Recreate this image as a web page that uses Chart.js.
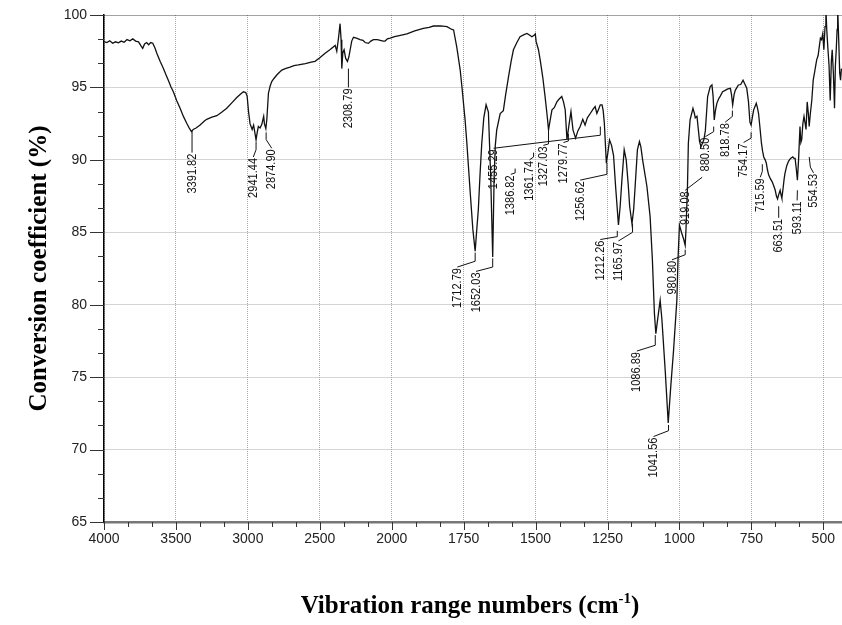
<!DOCTYPE html>
<html>
<head>
<meta charset="utf-8">
<script src="https://cdn.jsdelivr.net/npm/chart.js@4.4.1/dist/chart.umd.min.js"></script>
<style>
  html, body { margin: 0; padding: 0; background: #fff; }
  #wrap { width: 842px; height: 625px; }
</style>
</head>
<body>
<div id="wrap"><canvas id="ftir" width="842" height="625"></canvas></div>
<script>
// spectrum (wavenumber cm-1, transmittance %)
const wavenumbers = [
  4000,3980,3960,3940,3920,3900,3880,3860,3840,3820,3800,3780,3760,3745,3731,3718,3703,3690,3675,3661,
  3645,3633,3610,3587,3570,3553,3535,3518,3495,3471,3448,3425,3405,3392,3380,3360,3332,3300,3286,3250,
  3216,3180,3147,3110,3077,3050,3031,3015,3005,2995,2985,2970,2960,2950,2943,2935,2927,2915,2903,2895,
  2890,2885,2875,2868,2857,2845,2834,2820,2799,2780,2764,2740,2707,2680,2649,2600,2560,2533,2500,2463,
  2430,2393,2382,2370,2359,2352,2347,2340,2331,2320,2308,2298,2289,2278,2266,2245,2220,2200,2185,2162,
  2145,2127,2100,2080,2060,2046,2030,2011,1990,1970,1947,1920,1890,1870,1855,1830,1808,1791,1785,1774,
  1762,1756,1745,1739,1727,1718,1710,1704,1699,1693,1687,1680,1672,1664,1656,1649,1644,1640,1635,1623,
  1612,1604,1594,1585,1577,1565,1554,1540,1530,1520,1513,1505,1501,1498,1490,1484,1475,1467,1460,1455,
  1448,1443,1435,1426,1418,1409,1403,1397,1391,1384,1377,1370,1361,1353,1345,1336,1328,1320,1310,1300,
  1293,1287,1281,1275,1269,1265,1261,1254,1248,1243,1236,1229,1222,1212,1206,1200,1192,1185,1178,1173,
  1165,1159,1154,1146,1139,1134,1128,1113,1102,1094,1087,1082,1077,1073,1067,1061,1049,1039,1030,1021,
  1009,1005,1000,993,985,980,977,972,969,963,953,948,945,939,930,925,915,910,902,893,
  887,883,879,875,870,864,858,850,841,832,823,819,815,810,806,800,795,787,779,772,
  766,760,755,751,746,742,737,733,729,725,720,715,711,707,702,698,694,690,684,678,
  672,667,663,659,655,650,647,644,640,636,633,627,621,614,606,602,598,594,590,586,
  581,578,575,571,567,563,560,556,552,549,545,540,535,529,523,518,514,510,506,502,
  498,494,491,488,485,480,476,472,469,465,461,458,455,452,450,446,443,440,437
];
const transmittance = [
  98.16,98.10,98.22,98.05,98.15,98.08,98.20,98.12,98.30,98.22,98.35,98.20,98.15,97.90,97.70,98.00,98.10,97.95,98.10,98.05,
  97.70,97.36,96.80,96.30,95.90,95.50,95.05,94.70,94.10,93.56,93.00,92.53,92.15,91.95,92.10,92.20,92.40,92.70,92.80,92.95,
  93.05,93.30,93.56,93.95,94.30,94.55,94.70,94.65,94.40,93.30,92.50,92.10,92.40,91.80,91.38,91.90,92.30,92.20,92.45,92.80,
  93.00,92.50,92.15,92.80,94.60,95.10,95.40,95.60,95.86,96.05,96.20,96.30,96.40,96.50,96.55,96.65,96.75,96.80,97.05,97.36,
  97.60,97.90,97.50,98.40,99.40,98.30,96.30,97.40,97.60,97.00,96.80,97.10,97.60,98.20,98.46,98.40,98.30,98.25,98.10,98.04,
  98.20,98.30,98.30,98.25,98.20,98.20,98.35,98.40,98.50,98.60,98.70,98.90,99.08,99.15,99.24,99.25,99.20,99.00,98.97,97.80,
  96.20,95.05,92.76,91.20,87.70,85.20,83.70,85.30,86.55,89.00,91.15,92.90,93.80,93.30,88.85,83.30,88.85,91.00,92.07,93.20,
  93.40,94.50,95.75,96.80,97.60,98.10,98.50,98.65,98.73,98.60,98.50,98.60,98.70,98.16,97.60,96.90,95.70,94.37,93.10,92.07,
  92.90,93.45,93.60,94.00,94.20,94.37,94.00,93.45,91.40,92.40,93.33,92.07,91.50,92.00,92.30,92.80,92.40,92.90,93.20,93.50,
  93.68,93.20,93.50,93.80,93.80,93.40,92.53,89.77,90.60,91.38,91.00,90.30,88.20,85.50,86.80,88.60,90.70,90.00,88.30,86.78,
  85.60,86.60,88.16,90.70,91.26,90.90,90.00,88.16,86.10,83.10,79.40,78.00,78.80,79.40,80.30,79.00,75.30,71.84,74.40,76.70,
  80.30,83.10,85.50,85.00,84.50,84.10,85.30,88.20,91.15,92.76,93.56,93.20,92.90,93.00,91.26,90.90,91.40,92.00,94.37,95.06,
  95.17,94.40,92.76,93.40,93.90,94.20,94.40,94.70,94.80,94.90,94.94,94.50,93.80,94.50,94.80,95.00,95.17,95.20,95.50,95.20,
  94.94,94.00,92.60,92.40,93.00,93.45,93.70,93.90,93.60,93.20,92.20,91.15,90.60,90.20,90.00,89.77,89.30,88.97,88.70,88.50,
  88.20,87.90,87.50,87.30,87.60,87.90,87.60,87.35,88.00,88.70,89.08,89.60,89.90,90.10,90.20,90.10,90.10,89.40,88.60,90.00,
  92.30,91.20,91.40,92.50,93.00,92.50,92.10,94.00,93.20,92.30,93.20,94.10,95.50,96.20,96.90,97.20,97.80,98.40,98.30,98.70,
  97.60,99.20,100.50,99.00,98.00,96.50,94.10,96.80,97.60,96.00,93.56,96.50,97.60,99.00,100.50,98.00,96.00,95.50,96.30
];

// tick labels of the x axis (scale halves below 2000)
const xTickLabels = [4000,3500,3000,2500,2000,1750,1500,1250,1000,750,500];
const yTicks = [65,70,75,80,85,90,95,100];

// peak annotations
const peakNames = [
  "3391.82","2941.44","2874.90","2308.79","1712.79","1652.03","1455.29","1386.82","1361.74",
  "1327.03","1279.77","1256.62","1212.26","1165.97","1086.89","1041.56","980.80","919.08",
  "880.50","818.78","754.17","715.59","663.51","593.11","554.53"
];
// leader path for each name, first point = top end of the text (wavenumber, %)
const peakLeaders = [
  [[3388,90.5],[3388,92.0]],
  [[2962,90.2],[2943,90.7],[2943,91.2]],
  [[2834,90.8],[2873,91.4],[2873,91.9]],
  [[2301,95.0],[2301,96.3]],
  [[1772,82.6],[1710,83.0],[1710,83.6]],
  [[1707,82.3],[1649,82.6],[1649,83.2]],
  [[1646,90.8],[1275,91.7],[1275,92.3]],
  [[1586,89.0],[1571,89.1],[1571,89.4]],
  [[1521,90.0],[1507,90.2],[1507,90.5]],
  [[1473,91.0],[1455,91.1],[1455,92.0]],
  [[1403,91.2],[1386,91.3],[1386,91.8]],
  [[1345,88.6],[1252,89.0],[1252,89.8]],
  [[1275,84.5],[1216,84.7],[1216,85.1]],
  [[1212,84.4],[1163,85.0],[1163,85.6]],
  [[1148,76.8],[1084,77.2],[1084,77.9]],
  [[1090,70.9],[1038,71.3],[1038,71.7]],
  [[1026,83.1],[980,83.45],[980,83.8]],
  [[980,87.9],[921,88.8]],
  [[910,91.6],[881,91.95],[881,92.3]],
  [[841,92.6],[816,93.0],[816,93.4]],
  [[777,91.2],[751,91.5],[751,91.9]],
  [[719,88.8],[712,89.2],[712,89.7]],
  [[655,86.0],[655,86.8]],
  [[591,87.2],[590,87.9]],
  [[534,89.1],[545,89.5],[549,90.2]]
];

// axis is compressed 2x above 2000 cm-1
function toAxis(w) { return w > 2000 ? 2000 + (w - 2000) / 2 : w; }
function fromAxis(u) { return u > 2000 ? 2000 + (u - 2000) * 2 : u; }

const points = wavenumbers.map((w, i) => ({ x: toAxis(w), y: transmittance[i] }));

const tickPlugin = {
  id: 'minorTicks',
  afterDraw(chart) {
    const ctx = chart.ctx, xs = chart.scales.x, ys = chart.scales.y, a = chart.chartArea;
    ctx.save();
    ctx.strokeStyle = '#333';
    ctx.lineWidth = 1;
    ctx.beginPath();
    for (let k = 0; k <= 21; k++) {
      const v = 65 + k * 5 / 3;
      const y = Math.round(ys.getPixelForValue(v)) + 0.5;
      const len = k % 3 === 0 ? 14 : 6;
      ctx.moveTo(a.left - len, y); ctx.lineTo(a.left, y);
    }
    for (let k = 0; ; k++) {
      const u = 3000 - k * 250 / 3;
      if (u < xs.min) break;
      const x = Math.round(xs.getPixelForValue(u)) + 0.5;
      const len = k % 3 === 0 ? 8 : 5;
      ctx.moveTo(x, a.bottom); ctx.lineTo(x, a.bottom + len);
    }
    ctx.stroke();

    // x axis title with a real superscript
    ctx.fillStyle = '#000';
    ctx.textBaseline = 'alphabetic';
    ctx.textAlign = 'left';
    const big = 'bold 25px "Liberation Serif", "Times New Roman", serif';
    const small = 'bold 15px "Liberation Serif", "Times New Roman", serif';
    const p1 = 'Vibration range numbers (cm', sup = '-1', p2 = ')';
    ctx.font = big;
    const w1 = ctx.measureText(p1).width, w3 = ctx.measureText(p2).width;
    ctx.font = small;
    const w2 = ctx.measureText(sup).width;
    let x0 = (a.left + a.right) / 2 - 3 - (w1 + w2 + w3) / 2;
    const base = 613;
    ctx.font = big; ctx.fillText(p1, x0, base);
    ctx.font = small; ctx.fillText(sup, x0 + w1, base - 10);
    ctx.font = big; ctx.fillText(p2, x0 + w1 + w2, base);
    ctx.restore();
  }
};

const peakPlugin = {
  id: 'peakLabels',
  afterDatasetsDraw(chart) {
    const ctx = chart.ctx, xs = chart.scales.x, ys = chart.scales.y;
    ctx.save();
    ctx.strokeStyle = '#111';
    ctx.lineWidth = 1;
    ctx.fillStyle = '#111';
    ctx.font = '13px "Liberation Sans", Arial, sans-serif';
    peakNames.forEach((name, i) => {
      const path = peakLeaders[i].map(p => [xs.getPixelForValue(toAxis(p[0])), ys.getPixelForValue(p[1])]);
      ctx.beginPath();
      path.forEach((p, j) => j ? ctx.lineTo(p[0], p[1]) : ctx.moveTo(p[0], p[1]));
      ctx.stroke();
      ctx.save();
      ctx.translate(path[0][0], path[0][1] + 1);
      ctx.rotate(-Math.PI / 2);
      ctx.scale(0.85, 1);
      ctx.textAlign = 'right';
      ctx.textBaseline = 'middle';
      ctx.fillText(name, 0, 0);
      ctx.restore();
    });
    ctx.restore();
  }
};

new Chart(document.getElementById('ftir'), {
  type: 'line',
  data: {
    datasets: [{
      data: points,
      borderColor: '#111',
      borderWidth: 1.3,
      pointRadius: 0,
      tension: 0,
      fill: false
    }]
  },
  options: {
    responsive: false,
    animation: false,
    devicePixelRatio: 1,
    layout: { padding: { top: 15, right: 0, left: 0, bottom: 0 } },
    plugins: { legend: { display: false }, tooltip: { enabled: false } },
    scales: {
      x: {
        type: 'linear',
        reverse: true,
        min: 435,
        max: 3000,
        afterBuildTicks(scale) {
          scale.ticks = xTickLabels.map(w => ({ value: toAxis(w) }));
        },
        afterFit(scale) { scale.height = 103; scale.paddingLeft = 0; scale.paddingRight = 0; },
        ticks: {
          autoSkip: false,
          maxRotation: 0,
          padding: 9,
          color: '#222',
          font: { family: '"Liberation Sans", Arial, sans-serif', size: 14 },
          callback: (v) => String(fromAxis(v))
        },
        grid: {
          drawTicks: false,
          color: '#a8a8a8'
        },
        border: { display: true, color: '#777', width: 2.5, dash: [1, 1] }
      },
      y: {
        min: 65,
        max: 100,
        afterBuildTicks(scale) {
          scale.ticks = yTicks.map(v => ({ value: v }));
        },
        afterFit(scale) { scale.width = 104; scale.paddingTop = 0; scale.paddingBottom = 0; },
        ticks: {
          padding: 17,
          color: '#222',
          font: { family: '"Liberation Sans", Arial, sans-serif', size: 14 }
        },
        grid: {
          drawTicks: false,
          color: (c) => c.tick && c.tick.value === 100 ? '#444' : '#a8a8a8'
        },
        border: { display: true, color: '#000', width: 1.5, dash: [1, 1] },
        title: {
          display: true,
          text: 'Conversion coefficient (%)',
          color: '#000',
          font: { family: '"Liberation Serif", "Times New Roman", serif', size: 25, weight: 'bold' },
          padding: { top: 25, bottom: 0 }
        }
      }
    }
  },
  plugins: [tickPlugin, peakPlugin]
});
</script>
</body>
</html>
